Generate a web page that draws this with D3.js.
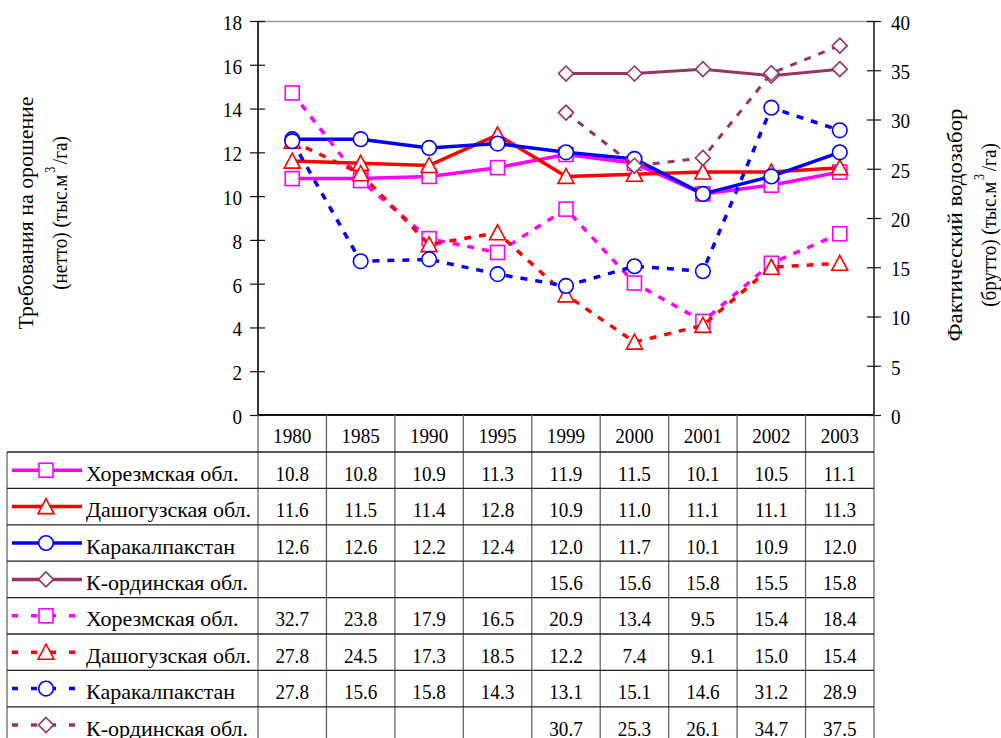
<!DOCTYPE html>
<html><head><meta charset="utf-8">
<script src="https://cdn.jsdelivr.net/npm/d3@7"></script>
<style>
html,body{margin:0;padding:0;background:#fff;}
text{font-family:"Liberation Serif","Times New Roman",serif;fill:#000;}
</style></head>
<body><svg id="c" width="1001" height="738"></svg>
<script>
const years = ["1980","1985","1990","1995","1999","2000","2001","2002","2003"];
const seriesNames = ["Хорезмская обл.","Дашогузская обл.","Каракалпакстан","К-ординская обл.","Хорезмская обл.","Дашогузская обл.","Каракалпакстан","К-ординская обл."];
const netKhorezm = [10.8,10.8,10.9,11.3,11.9,11.5,10.1,10.5,11.1];
const netDashoguz = [11.6,11.5,11.4,12.8,10.9,11.0,11.1,11.1,11.3];
const netKarakalpak = [12.6,12.6,12.2,12.4,12.0,11.7,10.1,10.9,12.0];
const netKzylorda = [null,null,null,null,15.6,15.6,15.8,15.5,15.8];
const grossKhorezm = [32.7,23.8,17.9,16.5,20.9,13.4,9.5,15.4,18.4];
const grossDashoguz = [27.8,24.5,17.3,18.5,12.2,7.4,9.1,15.0,15.4];
const grossKarakalpak = [27.8,15.6,15.8,14.3,13.1,15.1,14.6,31.2,28.9];
const grossKzylorda = [null,null,null,null,30.7,25.3,26.1,34.7,37.5];
const leftTicks = [0,2,4,6,8,10,12,14,16,18];
const rightTicks = [0,5,10,15,20,25,30,35,40];

const colors = ["#FF00FF","#FF0000","#0000FF","#993366"];
const markers = ["square","triangle","circle","diamond"];
const series = [
  {name:seriesNames[0], vals:netKhorezm, c:0, axis:"L", dash:false},
  {name:seriesNames[1], vals:netDashoguz, c:1, axis:"L", dash:false},
  {name:seriesNames[2], vals:netKarakalpak, c:2, axis:"L", dash:false},
  {name:seriesNames[3], vals:netKzylorda, c:3, axis:"L", dash:false},
  {name:seriesNames[4], vals:grossKhorezm, c:0, axis:"R", dash:true},
  {name:seriesNames[5], vals:grossDashoguz, c:1, axis:"R", dash:true},
  {name:seriesNames[6], vals:grossKarakalpak, c:2, axis:"R", dash:true},
  {name:seriesNames[7], vals:grossKzylorda, c:3, axis:"R", dash:true}
];

const svg = d3.select("#c");
const X0 = 258, X1 = 874, Y0 = 415, Y1 = 21;
const x = d3.scaleBand().domain(years).range([X0, X1]);
const yL = d3.scaleLinear().domain([0,18]).range([Y0, Y1]);
const yR = d3.scaleLinear().domain([0,40]).range([Y0, Y1]);
const FS = 22;       // font size (height)
const NARROW = 0.87; // horizontal squeeze for numbers / titles

function squeeze(sel, f){
  sel.each(function(){
    const w = this.getComputedTextLength();
    d3.select(this).attr("textLength", w*f).attr("lengthAdjust","spacingAndGlyphs");
  });
}

// plot top border
svg.append("line").attr("x1",X0).attr("x2",X1).attr("y1",Y1+0.5).attr("y2",Y1+0.5).attr("stroke","#999").attr("stroke-width",1.5);

// left axis
const gl = svg.append("g").attr("transform",`translate(${X0},0)`)
  .call(d3.axisLeft(yL).tickValues(leftTicks).tickSize(8).tickPadding(8).tickFormat(d3.format("d")));
gl.select(".domain").attr("stroke","#333").attr("stroke-width",2).attr("d",`M0,${Y1}V${Y0}`);
gl.selectAll(".tick line").attr("x1",7).attr("x2",-8).attr("stroke","#111").attr("stroke-width",1.2);
gl.selectAll(".tick text").style("font-size",FS+"px").style("font-family","Liberation Serif").attr("dy","0.38em");
squeeze(gl.selectAll(".tick text"), NARROW);

// right axis
const gr = svg.append("g").attr("transform",`translate(${X1},0)`)
  .call(d3.axisRight(yR).tickValues(rightTicks).tickSize(7).tickPadding(10).tickFormat(d3.format("d")));
gr.select(".domain").attr("stroke","#111").attr("stroke-width",1.5).attr("d",`M0,${Y1}V${Y0}`);
gr.selectAll(".tick line").attr("x1",-7).attr("x2",7).attr("stroke","#111").attr("stroke-width",1.2);
gr.selectAll(".tick text").style("font-size",FS+"px").style("font-family","Liberation Serif").attr("dy","0.38em");
squeeze(gr.selectAll(".tick text"), NARROW);

// bottom axis line
svg.append("line").attr("x1",X0).attr("x2",X1).attr("y1",Y0).attr("y2",Y0).attr("stroke","#111").attr("stroke-width",2);

// axis titles
function vtitle(cy, lines){
  const g = svg.append("g").attr("transform",`translate(0,${cy}) rotate(-90)`);
  lines.forEach(ln=>{
    const t = g.append("text").attr("x",0).attr("y",ln.dy).attr("text-anchor","middle")
      .attr("dominant-baseline","central").style("font-size",FS+"px");
    if(ln.len) { t.text(ln.parts[0].t).attr("textLength",ln.len).attr("lengthAdjust","spacingAndGlyphs"); return; }
    ln.parts.forEach(p=>{
      const ts = t.append("tspan").text(p.t);
      if(p.sup){ ts.attr("dy",-10).style("font-size","14px").attr("dx",2); }
      if(p.after){ ts.attr("dy",10).attr("dx",3); }
    });
    t.attr("transform","scale(0.87,1)");
  });
}
vtitle(213, [
  {dy:25, len:233, parts:[{t:"Требования на орошение"}]},
  {dy:60, parts:[{t:"(нетто) (тыс.м"},{t:"3",sup:true},{t:"/га)",after:true}]}
]);
vtitle(225, [
  {dy:954, len:233, parts:[{t:"Фактический водозабор"}]},
  {dy:989, parts:[{t:"(брутто) (тыс.м"},{t:"3",sup:true},{t:"/га)",after:true}]}
]);

// marker drawing
function drawMarker(g, type, cx, cy, color, sw){
  const s = 7;
  if(type==="square"){
    g.append("rect").attr("x",cx-s).attr("y",cy-s).attr("width",2*s).attr("height",2*s)
      .attr("fill","#fff").attr("stroke",color).attr("stroke-width",sw);
  } else if(type==="circle"){
    g.append("circle").attr("cx",cx).attr("cy",cy).attr("r",7.3)
      .attr("fill","#fff").attr("stroke",color).attr("stroke-width",sw);
  } else if(type==="triangle"){
    g.append("path").attr("d",`M${cx},${cy-8}L${cx+8},${cy+7}L${cx-8},${cy+7}Z`)
      .attr("fill","#fff").attr("stroke",color).attr("stroke-width",sw);
  } else if(type==="diamond"){
    g.append("path").attr("d",`M${cx},${cy-7.5}L${cx+7.5},${cy}L${cx},${cy+7.5}L${cx-7.5},${cy}Z`)
      .attr("fill","#fff").attr("stroke",color).attr("stroke-width",sw);
  }
}

const xc = d => x(d) + x.bandwidth()/2;
const plot = svg.append("g");
series.forEach(s=>{
  const ys = s.axis==="L" ? yL : yR;
  const pts = years.map((yr,i)=>({yr, v:s.vals[i]}));
  const line = d3.line().defined(d=>d.v!==null).x(d=>xc(d.yr)).y(d=>ys(d.v));
  const col = colors[s.c];
  plot.append("path").attr("d",line(pts)).attr("fill","none").attr("stroke",col)
    .attr("stroke-width", s.c===3 ? 3 : 3.5)
    .attr("stroke-dasharray", s.dash ? "7,8" : null)
    .attr("stroke-linejoin","round");
  const mg = plot.append("g");
  pts.filter(d=>d.v!==null).forEach(d=>drawMarker(mg, markers[s.c], xc(d.yr), ys(d.v), col, 1.6));
});

// table
const TL = 7;
const headTop = Y0, headBot = 452;
const rowH = 36.4;
const tg = svg.append("g");
// header texts
const hdr = tg.selectAll("text.hdr").data(years).join("text").attr("class","hdr")
  .attr("x",d=>xc(d)).attr("y",(headTop+headBot)/2+2).attr("text-anchor","middle")
  .attr("dominant-baseline","central").style("font-size",FS+"px").text(d=>d);
squeeze(hdr, NARROW);
// vertical lines for year columns
const colEdges = years.map(yr=>x(yr)).concat([X1]);
colEdges.forEach(e=>{
  tg.append("line").attr("x1",e).attr("x2",e).attr("y1",headTop).attr("y2",738)
    .attr("stroke","#666").attr("stroke-width",1.3);
});
tg.append("line").attr("x1",TL).attr("x2",TL).attr("y1",headBot).attr("y2",738).attr("stroke","#666").attr("stroke-width",1.3);
// horizontal lines
for(let r=0;r<=8;r++){
  const yy = headBot + r*rowH;
  tg.append("line").attr("x1",TL).attr("x2",X1).attr("y1",yy).attr("y2",yy).attr("stroke","#222").attr("stroke-width",1.3);
}
// rows
const fmt = d3.format(".1f");
series.forEach((s,r)=>{
  const cy = headBot + r*rowH + rowH/2;
  const col = colors[s.c];
  tg.append("line").attr("x1",12).attr("x2",82).attr("y1",cy).attr("y2",cy).attr("stroke",col)
    .attr("stroke-width",3.5).attr("stroke-dasharray", s.dash ? "6,13" : null);
  drawMarker(tg, markers[s.c], 46, cy, col, 1.6);
  tg.append("text").attr("x",86).attr("y",cy+3).attr("dominant-baseline","central")
    .style("font-size",FS+"px").text(s.name);
  const nums = tg.selectAll(null).data(years.map((yr,i)=>({yr,v:s.vals[i]})).filter(d=>d.v!==null))
    .join("text").attr("x",d=>xc(d.yr)).attr("y",cy+3).attr("text-anchor","middle")
    .attr("dominant-baseline","central").style("font-size",FS+"px").text(d=>fmt(d.v));
  squeeze(nums, NARROW);
});
</script></body></html>
